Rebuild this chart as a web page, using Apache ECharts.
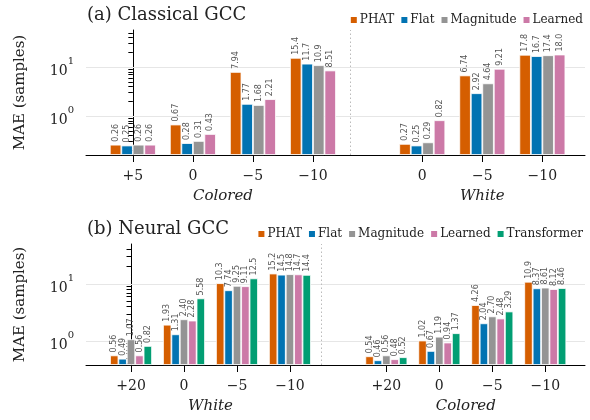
<!DOCTYPE html>
<html>
<head>
<meta charset="utf-8">
<script src="https://cdn.jsdelivr.net/npm/echarts@6/dist/echarts.min.js"></script>
<style>
  html, body { margin: 0; padding: 0; background: #fff; }
  #chart { width: 590px; height: 420px; }
</style>
</head>
<body>
<div id="chart"></div>
<script>
const methods = ['PHAT', 'Flat', 'Magnitude', 'Learned', 'Transformer'];
const colors = ['#D55E00', '#0173B2', '#949494', '#CC79A7', '#029E73'];

// (a) Classical GCC
const clsGroups = ['Colored', 'White'];
const clsTicks = ['+5', '0', '−5', '−10', '0', '−5', '−10'];
const clsPHAT = [0.26, 0.67, 7.94, 15.4, 0.27, 6.74, 17.8];
const clsFlat = [0.25, 0.28, 1.77, 11.7, 0.25, 2.92, 16.7];
const clsMagnitude = [0.26, 0.31, 1.68, 10.9, 0.29, 4.64, 17.4];
const clsLearned = [0.26, 0.43, 2.21, 8.51, 0.82, 9.21, 18.0];

// (b) Neural GCC
const neuGroups = ['White', 'Colored'];
const neuTicks = ['+20', '0', '−5', '−10', '+20', '0', '−5', '−10'];
const neuPHAT = [0.56, 1.93, 10.3, 15.2, 0.54, 1.02, 4.26, 10.9];
const neuFlat = [0.49, 1.31, 7.74, 14.5, 0.46, 0.67, 2.04, 8.37];
const neuMagnitude = [1.07, 2.40, 9.25, 14.8, 0.56, 1.19, 2.70, 8.61];
const neuLearned = [0.56, 2.28, 9.11, 14.7, 0.48, 0.94, 2.48, 8.12];
const neuTransformer = [0.82, 5.58, 12.5, 14.4, 0.52, 1.37, 3.29, 8.46];

const GAP = 0.82; // extra room between the two noise groups
const serif = 'DejaVu Serif';
const ink = '#222';

const option = {
  animation: false,
  title: [], legend: [], grid: [], xAxis: [], yAxis: [], series: []
};

function fmt(v) {
  return v < 1 ? v.toFixed(2) : v.toPrecision(3);
}

function addPanel(p) {
  const gi = option.grid.length;
  const xi = option.xAxis.length;
  const yi = option.yAxis.length;
  option.grid.push({ left: 86, right: 5, top: p.top, height: p.height });

  const pos = p.ticks.map((t, i) => i < p.nLeft ? i : i + GAP);
  const last = pos.length - 1;
  const lo = Math.log10(p.yMin);
  const yOf = v => Math.log10(v) - lo;
  const yTop = yOf(p.yMax);
  const majors = [0, 1].map(k => k - lo);
  const minors = [];
  for (let k = -1; k <= 1; k++) {
    for (let m = 2; m <= 9; m++) {
      const v = m * Math.pow(10, k);
      if (v > p.yMin && v < p.yMax) minors.push(yOf(v));
    }
  }
  const centers = [(pos[0] + pos[p.nLeft - 1]) / 2, (pos[p.nLeft] + pos[last]) / 2];
  const sep = (pos[p.nLeft - 1] + pos[p.nLeft]) / 2;

  option.title.push({
    text: p.title, left: 82, top: p.top - 29,
    textStyle: { fontFamily: serif, fontSize: 18, fontWeight: 'normal', color: ink }
  });
  option.legend.push({
    data: p.names, right: 2, top: p.top - 21,
    icon: 'rect', itemWidth: 8, itemHeight: 8, itemGap: 5,
    textStyle: { fontFamily: serif, fontSize: 12, color: ink, padding: [0, 0, 0, -3] }
  });

  const nearest = (arr, v) => {
    let b = 0;
    arr.forEach((q, i) => { if (Math.abs(q - v) < Math.abs(arr[b] - v)) b = i; });
    return b;
  };

  option.xAxis.push({
    type: 'value', gridIndex: gi, position: 'bottom', min: p.xMin, max: p.xMax,
    axisLine: { show: true, onZero: false, lineStyle: { color: '#000', width: 1 } },
    axisTick: { show: true, customValues: pos, length: 7, lineStyle: { color: '#000' } },
    axisLabel: {
      customValues: pos, margin: 14,
      formatter: v => p.ticks[nearest(pos, v)],
      fontFamily: serif, fontSize: 14, color: ink
    },
    splitLine: { show: false }
  });
  option.xAxis.push({
    type: 'value', gridIndex: gi, position: 'bottom', min: p.xMin, max: p.xMax,
    axisLine: { show: false }, axisTick: { show: false },
    axisLabel: {
      customValues: centers, margin: 34,
      formatter: v => p.groups[nearest(centers, v)],
      fontFamily: serif, fontSize: 15, fontStyle: 'italic', color: ink
    },
    splitLine: { show: false }
  });

  option.yAxis.push({
    type: 'value', gridIndex: gi, position: 'left', min: 0, max: yTop,
    name: 'MAE (samples)', nameLocation: 'middle', nameGap: 58,
    nameTextStyle: { fontFamily: serif, fontSize: 15, color: ink },
    axisLine: { show: true, lineStyle: { color: '#000', width: 1 } },
    axisTick: { show: true, customValues: majors, length: 8, lineStyle: { color: '#000' } },
    axisLabel: {
      customValues: majors, margin: 12,
      formatter: v => '{b|10}{s|' + Math.round(v + lo) + '}',
      rich: {
        b: { fontFamily: serif, fontSize: 14, color: ink, verticalAlign: 'bottom', lineHeight: 22 },
        s: { fontFamily: serif, fontSize: 10, color: ink, verticalAlign: 'top', lineHeight: 12 }
      }
    },
    splitLine: { show: false }
  });
  option.yAxis.push({
    type: 'value', gridIndex: gi, position: 'left', min: 0, max: yTop,
    axisLine: { show: false },
    axisTick: { show: true, customValues: minors, length: 4.5, lineStyle: { color: '#000' } },
    axisLabel: { show: false },
    splitLine: { show: false }
  });

  p.values.forEach((vals, si) => {
    const s = {
      type: 'bar', name: p.names[si],
      xAxisIndex: xi, yAxisIndex: yi,
      barWidth: p.barWidth, barGap: '0%',
      itemStyle: { color: colors[si], borderColor: '#fff', borderWidth: 0.8 },
      data: vals.map((v, i) => [pos[i], yOf(v)]),
      label: {
        show: true, position: 'top', rotate: 90, align: 'left', verticalAlign: 'middle',
        distance: 3, fontFamily: 'DejaVu Sans', fontSize: 8, color: '#555',
        formatter: prm => fmt(vals[prm.dataIndex])
      },
      z: 3
    };
    if (si === 0) {
      s.markLine = {
        silent: true, symbol: 'none', z: 1, animation: false,
        label: { show: false },
        lineStyle: { color: '#e6e6e6', width: 1, type: 'solid' },
        data: majors.map(m => ({ yAxis: m })).concat([
          { xAxis: sep, lineStyle: { color: '#bbb', width: 1, type: [1.5, 2.5] } }
        ])
      };
    }
    option.series.push(s);
  });
}

addPanel({
  title: '(a) Classical GCC', top: 30, height: 125,
  ticks: clsTicks, groups: clsGroups, nLeft: 4,
  names: methods.slice(0, 4),
  values: [clsPHAT, clsFlat, clsMagnitude, clsLearned],
  yMin: 0.16, yMax: 57, xMin: -0.78, xMax: 7.53, barWidth: 11.5
});
addPanel({
  title: '(b) Neural GCC', top: 244, height: 121,
  ticks: neuTicks, groups: neuGroups, nLeft: 4,
  names: methods,
  values: [neuPHAT, neuFlat, neuMagnitude, neuLearned, neuTransformer],
  yMin: 0.38, yMax: 50, xMin: -0.85, xMax: 8.57, barWidth: 8.4
});

const chart = echarts.init(document.getElementById('chart'));
chart.setOption(option);
</script>
</body>
</html>
